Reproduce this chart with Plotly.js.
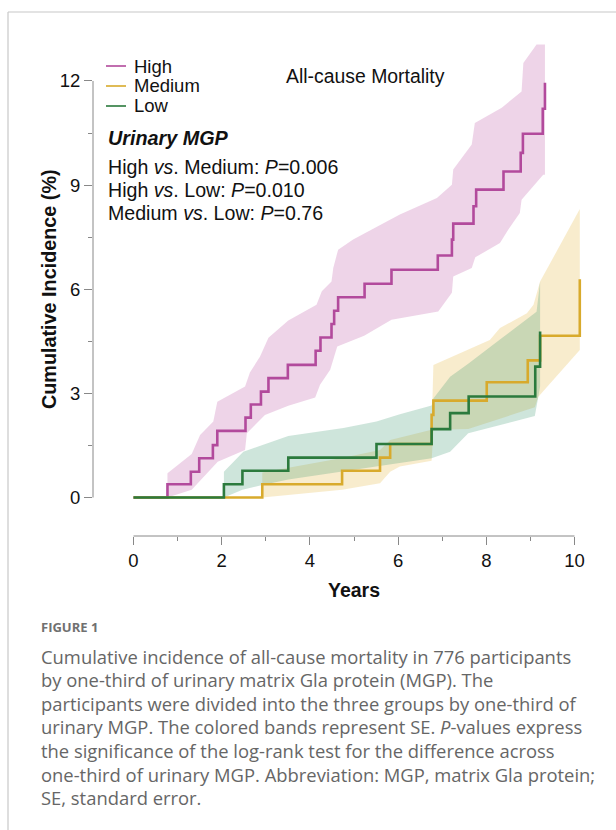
<!DOCTYPE html>
<html>
<head>
<meta charset="utf-8">
<script src="https://cdn.plot.ly/plotly-3.0.1.min.js"></script>
<style>
  html, body { margin: 0; padding: 0; background: #fff; }
  #chart { width: 616px; height: 830px; }
</style>
</head>
<body>
<div id="chart"></div>
<script>
// ---------------- data ----------------
const groups = ["High", "Medium", "Low"];

const highYears = [0, 0.77, 1.30, 1.49, 1.80, 1.90, 2.54, 2.66, 2.89, 3.06, 3.50, 4.13, 4.24, 4.49, 4.55, 4.64, 5.24, 5.85, 6.90, 7.22, 7.25, 7.71, 7.77, 8.39, 8.78, 8.83, 9.28, 9.33];
const highInc   = [0, 0.38, 0.74, 1.13, 1.51, 1.92, 2.30, 2.68, 3.05, 3.44, 3.82, 4.23, 4.61, 5.00, 5.38, 5.77, 6.16, 6.56, 6.97, 7.43, 7.89, 8.39, 8.87, 9.39, 9.93, 10.48, 11.20, 11.95];

const medYears = [0, 2.92, 4.73, 5.59, 5.82, 6.76, 6.80, 8.01, 8.94, 9.22, 10.12];
const medInc   = [0, 0.38, 0.77, 1.15, 1.54, 2.38, 2.79, 3.32, 3.95, 4.66, 6.29];

const lowYears = [0, 2.05, 2.47, 3.51, 5.51, 6.76, 7.18, 7.60, 9.11, 9.22];
const lowInc   = [0, 0.38, 0.77, 1.15, 1.54, 1.97, 2.43, 2.91, 3.77, 4.78];

// SE bands: upper edge and lower edge (years, %)
const highUpperYears = [0.77, 1.32, 1.51, 1.81, 1.90, 2.53, 2.64, 2.87, 3.06, 3.51, 4.15, 4.27, 4.49, 4.53, 4.64, 4.98, 6.04, 6.88, 7.22, 7.25, 7.67, 7.74, 8.35, 8.80, 8.84, 9.14, 9.33];
const highUpper      = [0.70, 1.25, 1.80, 2.19, 2.76, 3.20, 3.60, 4.06, 4.60, 5.10, 5.55, 5.94, 6.22, 6.61, 7.14, 7.43, 8.15, 8.63, 9.01, 9.45, 10.17, 10.79, 11.23, 11.70, 12.52, 13.05, 13.05];
const highLowerYears = [0.77, 1.32, 1.91, 2.53, 2.57, 2.98, 3.51, 4.12, 4.23, 4.46, 4.62, 5.23, 5.61, 5.85, 6.91, 7.22, 7.25, 7.67, 7.75, 8.31, 8.50, 8.76, 8.80, 9.29, 9.33];
const highLower      = [0.00, 0.22, 1.03, 1.37, 1.85, 2.38, 2.64, 2.88, 3.25, 3.68, 4.35, 4.66, 4.95, 5.12, 5.36, 5.90, 6.37, 6.61, 6.92, 7.33, 7.72, 8.20, 8.58, 9.30, 9.30];

const medUpperYears = [2.92, 4.73, 5.59, 5.82, 6.76, 6.80, 8.08, 8.31, 8.92, 9.07, 9.22, 10.12];
const medUpper      = [0.72, 1.14, 1.37, 1.66, 1.95, 3.82, 4.54, 4.88, 5.31, 5.55, 6.22, 8.31];
const medLowerYears = [2.92, 4.73, 5.59, 5.82, 6.04, 6.76, 6.80, 7.59, 9.10, 9.18, 10.12];
const medLower      = [0.00, 0.22, 0.41, 0.74, 0.89, 1.06, 1.95, 1.97, 2.60, 2.90, 4.25];

const lowUpperYears = [2.05, 2.49, 3.51, 4.76, 5.51, 6.04, 6.76, 6.80, 7.18, 7.59, 8.31, 8.95, 9.14, 9.22];
const lowUpper      = [0.74, 1.32, 1.77, 2.00, 2.19, 2.40, 2.65, 2.85, 3.48, 3.85, 4.55, 5.15, 5.35, 6.22];
const lowLowerYears = [2.05, 2.47, 2.92, 3.51, 5.51, 6.76, 7.18, 7.59, 9.10, 9.18, 9.22];
const lowLower      = [0.00, 0.22, 0.36, 0.52, 0.90, 1.13, 1.32, 1.85, 2.35, 2.91, 3.20];

const xTicks = [0, 2, 4, 6, 8, 10];
const yTicks = [0, 3, 6, 9, 12];

const captionLines = [
  "Cumulative incidence of all-cause mortality in 776 participants",
  "by one-third of urinary matrix Gla protein (MGP). The",
  "participants were divided into the three groups by one-third of",
  "urinary MGP. The colored bands represent SE. <i>P</i>-values express",
  "the significance of the log-rank test for the difference across",
  "one-third of urinary MGP. Abbreviation: MGP, matrix Gla protein;",
  "SE, standard error."
];

// ---------------- styling ----------------
const W = 616, H = 830;
const lineColors = { High: "#b24a9c", Medium: "#d8aa2c", Low: "#2b7a3d" };
const bandColors = {
  High: "rgba(181,71,155,0.23)",
  Medium: "rgba(224,176,48,0.24)",
  Low: "rgba(60,150,110,0.25)"
};
const px = v => v / W;
const py = v => 1 - v / H;

// axis calibration (pixel positions of plot box)
const x0px = 133.5, xUnit = 44.1;   // year 0 at 133.5px, 44.1 px/year
const y0px = 497.5, yUnit = 34.71;  // 0% at 497.5px
const plotL = 93, plotR = 600, plotT = 40, plotB = 536;

function band(name, uy, u, ly, l) {
  const xs = uy.concat(ly.slice().reverse());
  const ys = u.concat(l.slice().reverse());
  return { type: "scatter", mode: "lines", x: xs, y: ys, fill: "toself",
           fillcolor: bandColors[name], line: { width: 0 }, hoverinfo: "skip", showlegend: false };
}
function step(name, xs, ys) {
  return { type: "scatter", mode: "lines", name: name, x: xs, y: ys,
           line: { shape: "hv", color: lineColors[name], width: 2.6 }, showlegend: false };
}

const data = [
  band("High", highUpperYears, highUpper, highLowerYears, highLower),
  band("Medium", medUpperYears, medUpper, medLowerYears, medLower),
  band("Low", lowUpperYears, lowUpper, lowLowerYears, lowLower),
  step("High", highYears, highInc),
  step("Medium", medYears, medInc),
  step("Low", lowYears, lowInc)
];

const font = "Liberation Sans, Arial, sans-serif";
const capFont = "Open Sans, Lato, sans-serif";
const annotations = [];
const shapes = [];

// legend (manual, to match the short line samples)
groups.forEach((g, i) => {
  const yy = 66 + 20 * i;
  shapes.push({ type: "line", xref: "paper", yref: "paper", x0: px(106), x1: px(126), y0: py(yy), y1: py(yy),
                line: { color: lineColors[g], width: 1.6 } });
  annotations.push({ xref: "paper", yref: "paper", x: px(132), y: py(yy), xanchor: "left", yanchor: "middle",
                     text: g, showarrow: false, font: { family: font, size: 18.5, color: "#111" } });
});

annotations.push({ xref: "paper", yref: "paper", x: px(365), y: py(76), xanchor: "center", yanchor: "middle",
  text: "All-cause Mortality", showarrow: false, font: { family: font, size: 19.4, color: "#111" } });
annotations.push({ xref: "paper", yref: "paper", x: px(106), y: py(138), xanchor: "left", yanchor: "middle",
  text: "<b><i>Urinary MGP</i></b>", showarrow: false, font: { family: font, size: 19.8, color: "#111" } });
const stats = [
  "High <i>vs</i>. Medium: <i>P</i>=0.006",
  "High <i>vs</i>. Low: <i>P</i>=0.010",
  "Medium <i>vs</i>. Low: <i>P</i>=0.76"
];
stats.forEach((s, i) => {
  annotations.push({ xref: "paper", yref: "paper", x: px(106), y: py(167 + 23 * i), xanchor: "left", yanchor: "middle",
    text: s, showarrow: false, font: { family: font, size: 19.6, color: "#111" } });
});

// axis titles
annotations.push({ xref: "paper", yref: "paper", x: px(49), y: py(289), xanchor: "center", yanchor: "middle",
  textangle: -90, text: "<b>Cumulative Incidence (%)</b>", showarrow: false, font: { family: font, size: 19.8, color: "#111" } });
annotations.push({ xref: "paper", yref: "paper", x: px(354), y: py(590), xanchor: "center", yanchor: "middle",
  text: "<b>Years</b>", showarrow: false, font: { family: font, size: 19.5, color: "#111" } });

// caption
annotations.push({ xref: "paper", yref: "paper", x: px(39), y: py(627), xanchor: "left", yanchor: "middle",
  text: "<b>FIGURE 1</b>", showarrow: false, font: { family: capFont, size: 13, color: "#707070" } });
captionLines.forEach((t, i) => {
  annotations.push({ xref: "paper", yref: "paper", x: px(39), y: py(656 + 23.6 * i), xanchor: "left", yanchor: "middle",
    text: t, showarrow: false, font: { family: capFont, size: 18.4, color: "#666" } });
});

// detached axis lines (R style)
shapes.push({ type: "line", xref: "x", yref: "paper", x0: 0, x1: 10, y0: py(plotB), y1: py(plotB),
              line: { color: "#888", width: 1 } });
shapes.push({ type: "line", xref: "paper", yref: "y", x0: px(plotL), x1: px(plotL), y0: 0, y1: 12,
              line: { color: "#888", width: 1 } });
// figure frame
shapes.push({ type: "line", xref: "paper", yref: "paper", x0: px(8), x1: 1, y0: py(12), y1: py(12),
              line: { color: "#c8c8c8", width: 1.2 } });
shapes.push({ type: "line", xref: "paper", yref: "paper", x0: px(8), x1: px(8), y0: py(12), y1: 0,
              line: { color: "#c8c8c8", width: 1.2 } });

const layout = {
  width: W, height: H,
  margin: { l: 0, r: 0, t: 0, b: 0 },
  paper_bgcolor: "#fff", plot_bgcolor: "rgba(0,0,0,0)",
  showlegend: false,
  xaxis: {
    domain: [px(plotL), px(plotR)],
    range: [(plotL - x0px) / xUnit, (plotR - x0px) / xUnit],
    tickvals: xTicks, ticktext: xTicks.map(String),
    ticks: "outside", ticklen: 8, tickcolor: "#888", tickwidth: 1,
    minor: { dtick: 1, tick0: 0, ticks: "outside", ticklen: 4, tickcolor: "#888", tickwidth: 1 },
    showgrid: false, zeroline: false, showline: false,
    tickfont: { family: font, size: 18.5, color: "#111" }
  },
  yaxis: {
    domain: [py(plotB), py(plotT)],
    range: [(y0px - plotB) / yUnit, (y0px - plotT) / yUnit],
    tickvals: yTicks, ticktext: yTicks.map(String),
    ticks: "outside", ticklen: 8, tickcolor: "#888", tickwidth: 1,
    minor: { dtick: 1.5, tick0: 0, ticks: "outside", ticklen: 4, tickcolor: "#888", tickwidth: 1 },
    showgrid: false, zeroline: false, showline: false,
    tickfont: { family: font, size: 18.5, color: "#111" }
  },
  annotations: annotations,
  shapes: shapes
};

Plotly.newPlot("chart", data, layout, { displayModeBar: false, staticPlot: true });
</script>
</body>
</html>
